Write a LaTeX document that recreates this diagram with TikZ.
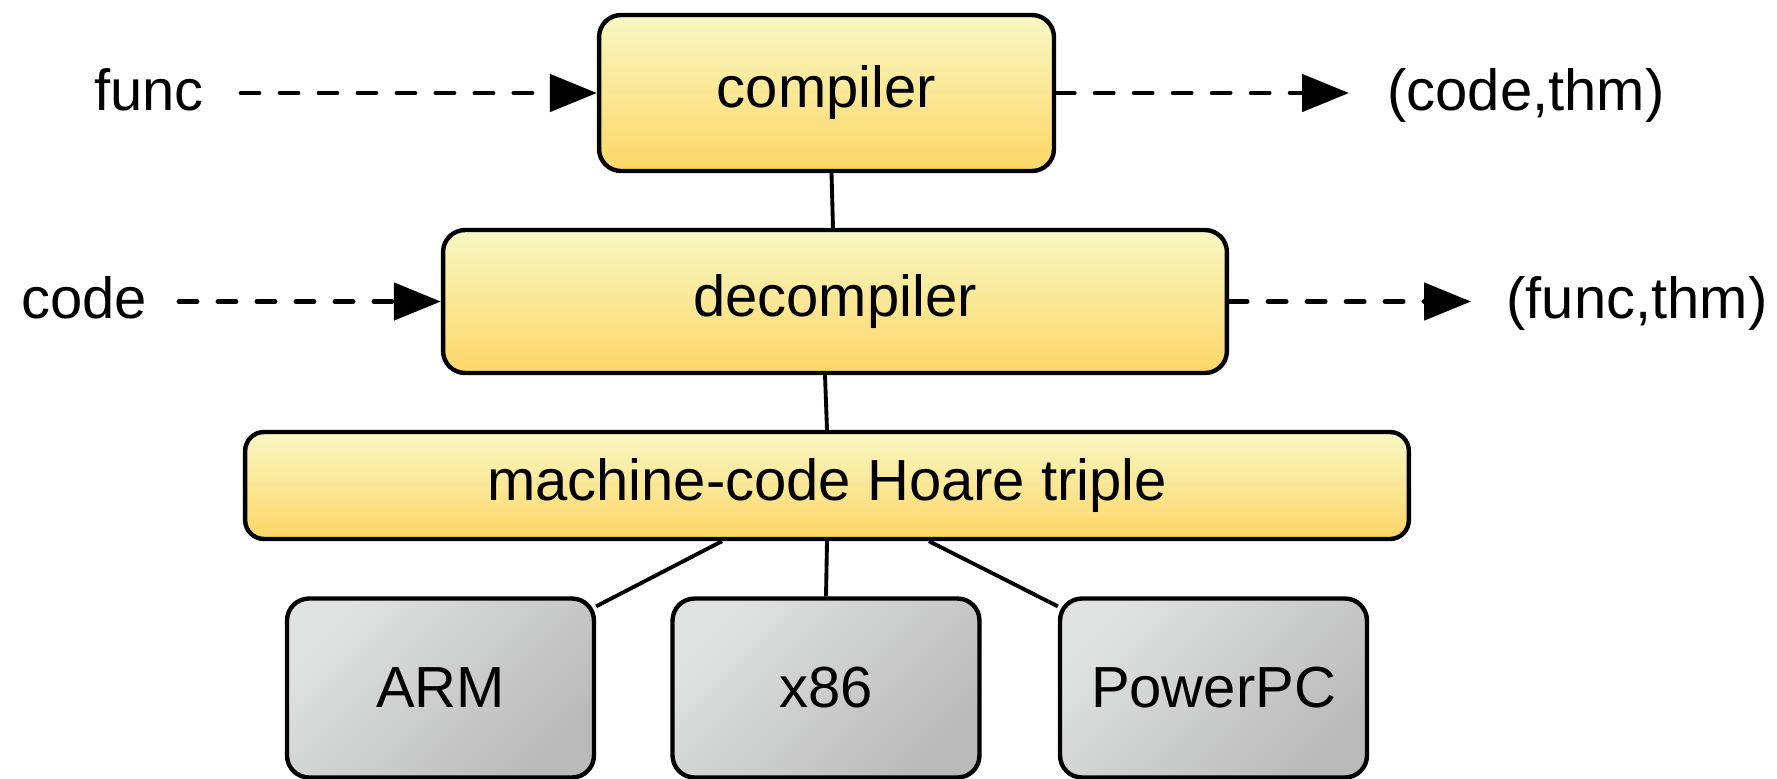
\documentclass[tikz,border=0pt]{standalone}
\usepackage{fontspec}
\setmainfont{Liberation Sans}
\usetikzlibrary{arrows.meta,backgrounds}
\definecolor{ytop}{RGB}{248,248,196}
\definecolor{ybot}{RGB}{253,214,102}
\definecolor{gtop}{RGB}{224,225,225}
\definecolor{gbot}{RGB}{186,186,186}
\begin{document}
\begin{tikzpicture}[x=0.02cm,y=-0.02cm,
 every node/.style={font=\fontsize{33}{40}\selectfont},
 ybox/.style={draw=black, line width=2.5pt, rounded corners=0.44cm, top color=ytop, bottom color=ybot, inner sep=0pt},
 gbox/.style={draw=black, line width=2.5pt, rounded corners=0.44cm, top color=gtop, bottom color=gbot, shading angle=45, minimum width=6.14cm, minimum height=3.58cm, inner sep=0pt},
 lbl/.style={anchor=base west, inner sep=0pt},
 flow/.style={line width=2.8pt, dash pattern=on 0.36cm off 0.42cm, line cap=round, -{Triangle[length=0.94cm,width=0.74cm]}},
 link/.style={line width=2.2pt}]
\useasboundingbox (0,0) rectangle (1777,778);

\node[ybox, minimum width=9.10cm, minimum height=3.12cm] (compiler) at (826.5,93) {compiler};
\node[ybox, minimum width=15.68cm, minimum height=2.86cm] (decompiler) at (835,301.5) {decompiler};
\node[ybox, minimum width=23.28cm, minimum height=2.14cm, rounded corners=0.38cm] (hoare) at (827,485.5) {machine-code Hoare triple};
\node[gbox] (arm) at (440.5,688) {ARM};
\node[gbox] (x86) at (826,688) {x86};
\node[gbox] (ppc) at (1213.5,688) {PowerPC};

\node[lbl] (func) at (94,110) {func};
\node[lbl] (code) at (21,318) {code};
\node[lbl] (codethm) at (1387,110) {(code,thm)};
\node[lbl] (functhm) at (1506,318) {(func,thm)};

\coordinate (fstart) at (241,93);
\coordinate (cstart) at (179,301.5);
\coordinate (cend) at (1349,93);
\coordinate (dend) at (1471,301.5);
\draw[flow] (fstart) -- (compiler.west);
\draw[flow] (cstart) -- (decompiler.west);
\draw[flow] (compiler.east) -- (cend);
\draw[flow] (decompiler.east) -- (dend);

\begin{scope}[on background layer]
\draw[link] ([xshift=0.1cm]compiler.south) -- ([xshift=-0.04cm]decompiler.north);
\draw[link] ([xshift=-0.2cm]decompiler.south) -- (hoare.north);
\draw[link] ([xshift=-2.1cm]hoare.south) -- ([yshift=-0.2cm]arm.north east);
\draw[link] (hoare.south) -- (x86.north);
\draw[link] ([xshift=2.04cm]hoare.south) -- ([yshift=-0.2cm]ppc.north west);
\end{scope}
\end{tikzpicture}
\end{document}
